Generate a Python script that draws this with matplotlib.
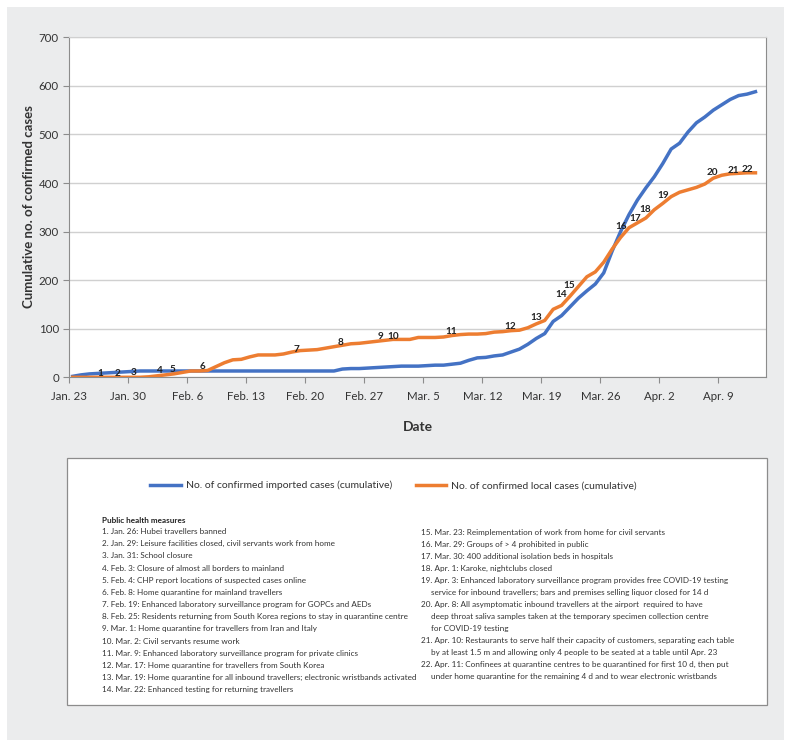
import numpy as np
import matplotlib
matplotlib.use("Agg")
import matplotlib.pyplot as plt
import matplotlib.dates as mdates
from matplotlib.patches import Rectangle
from datetime import datetime

plt.rcParams["font.family"] = ["Lato", "DejaVu Sans"]

# daily cumulative counts, Jan. 23 - Apr. 13
dates = np.arange("2020-01-23", "2020-04-14", dtype="datetime64[D]")

imported = [2, 5, 7, 8, 9, 10, 11, 12, 13, 13, 13, 13, 13, 13, 13, 13,
            13, 13, 13, 13, 13, 13, 13, 13, 13, 13, 13, 13, 13, 13, 13, 13,
            17, 18, 18, 19, 20, 21, 22, 23, 23, 23, 24, 25, 25, 27, 29, 35,
            40, 41, 44, 46, 52, 58, 68, 80, 90, 115, 127, 145, 163, 178, 192,
            215, 260, 300, 335, 365, 390, 413, 440, 470, 482, 505, 524, 536,
            550, 561, 572, 580, 583, 588]

local = [0, 0, 0, 0, 0, 0, 0, 0, 0, 1, 3, 5, 7, 10, 13, 13, 14, 22, 30,
         36, 37, 42, 46, 46, 46, 48, 52, 55, 56, 57, 60, 63, 66, 69, 70, 72,
         74, 76, 78, 78, 78, 82, 82, 82, 83, 86, 88, 89, 89, 90, 93, 94, 96,
         97, 102, 110, 117, 140, 148, 167, 187, 207, 217, 237, 264, 288, 308,
         318, 328, 345, 358, 372, 381, 386, 391, 398, 410, 416, 419, 420, 421,
         421]

event_dates = ["2020-01-26", "2020-01-29", "2020-01-31", "2020-02-03",
               "2020-02-04", "2020-02-08", "2020-02-19", "2020-02-25",
               "2020-03-01", "2020-03-02", "2020-03-09", "2020-03-17",
               "2020-03-19", "2020-03-22", "2020-03-23", "2020-03-29",
               "2020-03-30", "2020-04-01", "2020-04-03", "2020-04-08",
               "2020-04-10", "2020-04-11"]

measures_left = [
    "1. Jan. 26: Hubei travellers banned",
    "2. Jan. 29: Leisure facilities closed, civil servants work from home",
    "3. Jan. 31: School closure",
    "4. Feb. 3: Closure of almost all borders to mainland",
    "5. Feb. 4: CHP report locations of suspected cases online",
    "6. Feb. 8: Home quarantine for mainland travellers",
    "7. Feb. 19: Enhanced laboratory surveillance program for GOPCs and AEDs",
    "8. Feb. 25: Residents returning from South Korea regions to stay in quarantine centre",
    "9. Mar. 1: Home quarantine for travellers from Iran and Italy",
    "10. Mar. 2: Civil servants resume work",
    "11. Mar. 9: Enhanced laboratory surveillance program for private clinics",
    "12. Mar. 17: Home quarantine for travellers from South Korea",
    "13. Mar. 19: Home quarantine for all inbound travellers; electronic wristbands activated",
    "14. Mar. 22: Enhanced testing for returning travellers",
]

measures_right = [
    ["15. Mar. 23: Reimplementation of work from home for civil servants"],
    ["16. Mar. 29: Groups of > 4 prohibited in public"],
    ["17. Mar. 30: 400 additional isolation beds in hospitals"],
    ["18. Apr. 1: Karoke, nightclubs closed"],
    ["19. Apr. 3: Enhanced laboratory surveillance program provides free COVID-19 testing",
     "service for inbound travellers; bars and premises selling liquor closed for 14 d"],
    ["20. Apr. 8: All asymptomatic inbound travellers at the airport  required to have",
     "deep throat saliva samples taken at the temporary specimen collection centre",
     "for COVID-19 testing"],
    ["21. Apr. 10: Restaurants to serve half their capacity of customers, separating each table",
     "by at least 1.5 m and allowing only 4 people to be seated at a table until Apr. 23"],
    ["22. Apr. 11: Confinees at quarantine centres to be quarantined for first 10 d, then put",
     "under home quarantine for the remaining 4 d and to wear electronic wristbands"],
]

# hand placement of the event numbers (points, relative to the local curve)
label_offsets = [(1.5, 2.4), (-4.5, 2.4), (-5, 3.1), (-5, 2.8), (-0.8, 3.5),
                 (-3.9, 3.2), (-3, 0.8), (-7.7, 0.8), (-8.8, 1.9), (-6.3, 1.9),
                 (-6.3, 2.1), (-12.8, 1.0), (-6.3, 2.3), (-6.3, 0.9),
                 (-6.6, 0.6), (-5.3, 0.7), (-1.8, 3), (-6.8, 0.3), (-5.7, 0.6),
                 (-0.8, 4), (2.0, 2.7), (6.2, 2.9)]

W, H = 791, 747
BLUE = "#4472C4"
ORANGE = "#ED7D31"
TXT = "#333333"


def fx(px):
    return px / W


def fy(py):
    return 1 - py / H


fig = plt.figure(figsize=(W / 100, H / 100), dpi=100)
fig.patch.set_facecolor("white")
fig.add_artist(Rectangle((fx(7), fy(740)), fx(777), (740 - 7) / H,
                         transform=fig.transFigure, facecolor="#ebeced",
                         edgecolor="none", zorder=-10))

ax = fig.add_axes([fx(69.3), fy(377.3), fx(766 - 69.3), (377.3 - 37.3) / H])
ax.set_facecolor("white")

x = mdates.date2num(dates.astype("datetime64[s]").astype(datetime)) + 0.4
l1, = ax.plot(x, imported, color=BLUE, lw=2.5, solid_joinstyle="round",
              label="No. of confirmed imported cases (cumulative)", zorder=3)
l2, = ax.plot(x, local, color=ORANGE, lw=2.5, solid_joinstyle="round",
              label="No. of confirmed local cases (cumulative)", zorder=4)

day0 = mdates.date2num(datetime(2020, 1, 23))
for i, d in enumerate(event_dates):
    k = int((np.datetime64(d) - dates[0]).astype(int))
    ax.annotate(str(i + 1), xy=(x[k], local[k]), xytext=label_offsets[i],
                textcoords="offset points", ha="center", va="center",
                fontsize=7.2, fontweight="bold", color="#222222", zorder=5)

ax.set_ylim(0, 700)
ax.set_yticks(range(0, 701, 100))
ax.set_xlim(day0, day0 + 82.65)
ticks = [day0 + 7 * i for i in range(12)]
ax.set_xticks(ticks)
ax.set_xticklabels([f"{mdates.num2date(t):%b}. {mdates.num2date(t).day}"
                    for t in ticks])
ax.grid(axis="y", color="#d0d0d0", lw=1)
ax.set_axisbelow(True)
for s in ["left", "bottom", "right"]:
    ax.spines[s].set_color("#8c8c8c")
ax.spines["top"].set_color("#d0d0d0")
ax.tick_params(colors="#8c8c8c", labelcolor=TXT, labelsize=8.3, length=4)
ax.tick_params(axis="x", pad=6)

fig.text(fx(29), fy(207), "Cumulative no. of confirmed cases", rotation=90,
         ha="center", va="center", fontsize=9.5, fontweight="bold", color=TXT)
fig.text(fx(417.6), fy(427), "Date", ha="center", va="center",
         fontsize=10, fontweight="bold", color=TXT)

# notes box
fig.add_artist(Rectangle((fx(67), fy(705)), fx(700), (705 - 458) / H,
                         transform=fig.transFigure, facecolor="white",
                         edgecolor="#8c8c8c", lw=0.9, zorder=-5))

fig.legend(handles=[l1, l2], loc="center", bbox_to_anchor=(fx(393.5), fy(485.7)),
           ncol=2, frameon=False, fontsize=7.5, handlelength=2.9,
           handletextpad=0.5, columnspacing=2.25, labelcolor=TXT)

fig.text(fx(102.3), fy(520.7), "Public health measures", ha="left",
         va="center", fontsize=5.9, fontweight="bold", color="#222222")
step = 12.15
for i, line in enumerate(measures_left):
    fig.text(fx(102.3), fy(531.7 + i * step), line, ha="left", va="center",
             fontsize=5.9, color=TXT)

row = 0
for entry in measures_right:
    for j, line in enumerate(entry):
        fig.text(fx(420.7 if j == 0 else 430.7), fy(532.7 + row * 11.95), line,
                 ha="left", va="center", fontsize=5.9, color=TXT)
        row += 1

fig.savefig("out.png", dpi=100)
